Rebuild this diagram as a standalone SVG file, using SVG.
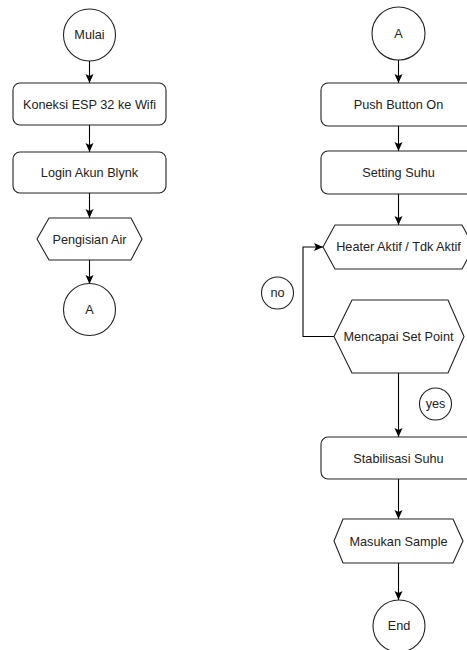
<svg xmlns="http://www.w3.org/2000/svg" width="467" height="650" viewBox="0 0 467 650">
<defs>
<marker id="ah" markerWidth="10" markerHeight="10" refX="9" refY="5" orient="auto" markerUnits="userSpaceOnUse">
<path d="M0,1 L9,5 L0,9 L2,5 Z" fill="#000"/>
</marker>
<style>
.s{fill:#fff;stroke:#222;stroke-width:1.1}
.t{font-family:"Liberation Sans",Arial,sans-serif;font-size:12.7px;fill:#222;text-anchor:middle;dominant-baseline:central}
.c{fill:none;stroke:#000;stroke-width:1.1;marker-end:url(#ah)}
.l{fill:none;stroke:#000;stroke-width:1.1}
</style>
</defs>
<rect width="467" height="650" fill="#fff"/>
<g id="connectors">
<line class="c" x1="89.5" y1="61" x2="89.5" y2="83"/>
<line class="c" x1="89.5" y1="125" x2="89.5" y2="152"/>
<line class="c" x1="89.5" y1="193" x2="89.5" y2="218"/>
<line class="c" x1="89.5" y1="260" x2="89.5" y2="284"/>
<line class="c" x1="398.5" y1="60" x2="398.5" y2="83"/>
<line class="c" x1="398.5" y1="126" x2="398.5" y2="151"/>
<line class="c" x1="398.5" y1="194" x2="398.5" y2="225"/>
<polyline class="c" points="334,336.5 303,336.5 303,247 323,247"/>
<line class="c" x1="398.5" y1="373" x2="398.5" y2="437"/>
<line class="c" x1="398.5" y1="479" x2="398.5" y2="519"/>
<line class="c" x1="398.5" y1="563" x2="398.5" y2="600"/>
</g>
<g id="mulai"><circle class="s" cx="89.5" cy="35" r="26"/><text class="t" x="89.5" y="35">Mulai</text></g>
<g id="koneksi"><rect class="s" x="13" y="83" width="153" height="42" rx="7"/><text class="t" x="89.5" y="104.5">Koneksi ESP 32 ke Wifi</text></g>
<g id="login"><rect class="s" x="13" y="152" width="153" height="41" rx="7"/><text class="t" x="89.5" y="172.5">Login Akun Blynk</text></g>
<g id="pengisian"><polygon class="s" points="37,239 49,218 131,218 142,239 131,260 49,260"/><text class="t" x="89.5" y="239.5">Pengisian Air</text></g>
<g id="a1"><circle class="s" cx="89.5" cy="309.5" r="26"/><text class="t" x="89.5" y="309.5">A</text></g>
<g id="a2"><circle class="s" cx="398.5" cy="33.5" r="26.5"/><text class="t" x="398.5" y="33.5">A</text></g>
<g id="push"><rect class="s" x="321" y="83" width="154" height="43" rx="7"/><text class="t" x="398.5" y="104.5">Push Button On</text></g>
<g id="setting"><rect class="s" x="321" y="151" width="154" height="43" rx="7"/><text class="t" x="398.5" y="172.5">Setting Suhu</text></g>
<g id="heater"><polygon class="s" points="323,247 335,225 462,225 474,247 462,269 335,269"/><text class="t" x="398.5" y="247">Heater Aktif / Tdk Aktif</text></g>
<g id="no"><circle class="s" cx="277.5" cy="293" r="16"/><text class="t" x="277.5" y="293">no</text></g>
<g id="mencapai"><polygon class="s" points="334,336.5 352,300 448,300 464,336.5 448,373 352,373"/><text class="t" x="398.5" y="337">Mencapai Set Point</text></g>
<g id="yes"><circle class="s" cx="435.5" cy="404" r="16"/><text class="t" x="435.5" y="404">yes</text></g>
<g id="stabilisasi"><rect class="s" x="321" y="437" width="154" height="42" rx="7"/><text class="t" x="398.5" y="458.5">Stabilisasi Suhu</text></g>
<g id="masukan"><polygon class="s" points="334,541 343,519 453,519 463,541 453,563 343,563"/><text class="t" x="398.5" y="541.5">Masukan Sample</text></g>
<g id="end"><circle class="s" cx="399" cy="626" r="26"/><text class="t" x="399" y="626">End</text></g>
</svg>
